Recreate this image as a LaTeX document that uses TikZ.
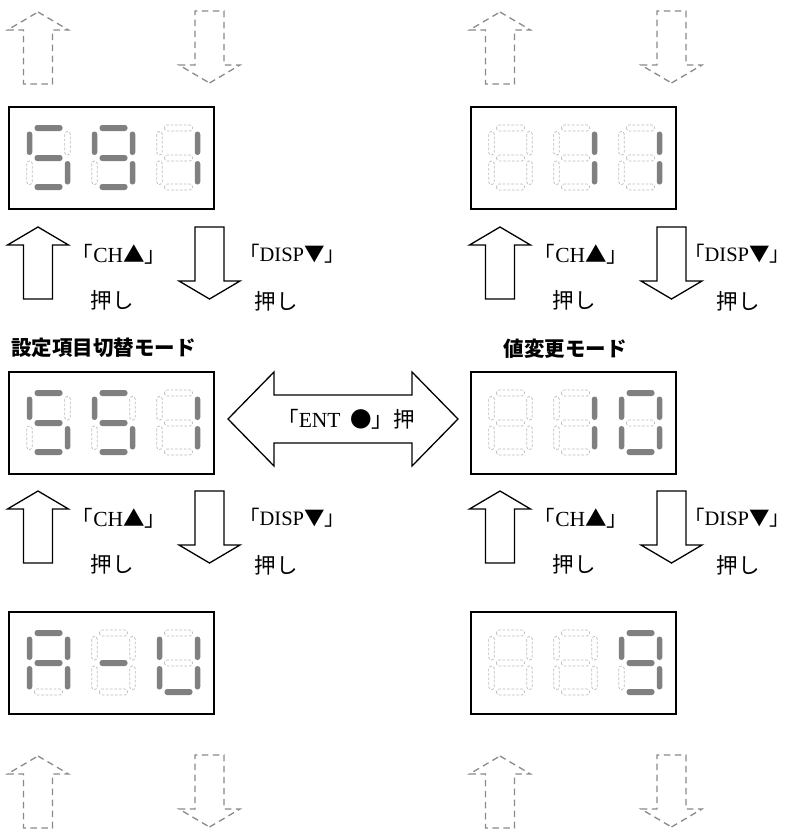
\documentclass[tikz,border=0pt]{standalone}
\usepackage{fontspec}
\setmainfont{Liberation Serif}
\newfontfamily\cjk{Noto Sans CJK JP}
\newfontfamily\cjkp{Noto Sans CJK JP}[RawFeature=+palt]
\newcommand\jp[1]{{\cjk #1}}
\definecolor{segc}{HTML}{808080}
\definecolor{offc}{HTML}{BDBDBD}
\definecolor{dashc}{HTML}{8A8A8A}
\tikzset{
 s1/.style={fill=segc, rounded corners=2.7pt},
 s0/.style={draw=offc, line width=0.75pt, dash pattern=on 2.6pt off 1.8pt, rounded corners=2.7pt},
 dispbox/.style={draw=black, line width=1.6pt, fill=white, minimum width=205pt, minimum height=102pt, anchor=north west, inner sep=0pt, outer sep=0pt},
 solidarr/.style={draw=black, line width=1.3pt, fill=white},
 ghostarr/.style={draw=dashc, line width=1.3pt, dash pattern=on 6.5pt off 4.5pt},
 keylab/.style={font=\fontsize{21.5}{24}\selectfont, inner sep=0pt},
 displab/.style={font=\fontsize{20.5}{24}\selectfont, inner sep=0pt},
 modelab/.style={font=\fontsize{20.5}{24}\selectfont\cjk\bfseries, inner sep=0pt},
 uparr/.pic={\path[pic actions] (0,0) -- (30.5,18) -- (14.5,18) -- (14.5,72) -- (-14.5,72) -- (-14.5,18) -- (-30.5,18) -- cycle;},
 downarr/.pic={\path[pic actions] (0,0) -- (30.5,-18) -- (14.5,-18) -- (14.5,-72) -- (-14.5,-72) -- (-14.5,-18) -- (-30.5,-18) -- cycle;},
}
\newcommand\disptext{\jp{「}DISP\jp{▼}{\cjkp 」}}
% #1 x, #2 y, #3..#9 = segments a b c d e f g (1 on, 0 off)
\newcommand\segdigit[9]{%
 \path[s#3] (#1+5,#2-3) rectangle (#1+33,#2+3);
 \path[s#4] (#1+35.25,#2+3.5) rectangle (#1+40.75,#2+27);
 \path[s#5] (#1+35.25,#2+33) rectangle (#1+40.75,#2+56.5);
 \path[s#6] (#1+5,#2+56) rectangle (#1+33,#2+62);
 \path[s#7] (#1-2.75,#2+33) rectangle (#1+2.75,#2+56.5);
 \path[s#8] (#1-2.75,#2+3.5) rectangle (#1+2.75,#2+27);
 \path[s#9] (#1+5,#2+27) rectangle (#1+33,#2+33);
}
\begin{document}
\begin{tikzpicture}[x=1pt,y=-1pt]
\useasboundingbox[fill=white] (0,0) rectangle (789,830);

% ghost arrows top
\pic[ghostarr] at (38,12) {uparr};
\pic[ghostarr] at (209.5,83) {downarr};
\pic[ghostarr] at (500,12) {uparr};
\pic[ghostarr] at (671.5,83) {downarr};

% display boxes
\node[dispbox] (b1) at (9,107) {};
\segdigit{29.5}{128}{1}{0}{1}{1}{0}{1}{1}
\segdigit{94.5}{128}{1}{1}{1}{1}{0}{1}{1}
\segdigit{159.5}{128}{0}{1}{1}{0}{0}{0}{0}

\node[dispbox] (b2) at (471,107) {};
\segdigit{491.5}{128}{0}{0}{0}{0}{0}{0}{0}
\segdigit{556.5}{128}{0}{1}{1}{0}{0}{0}{0}
\segdigit{621.5}{128}{0}{1}{1}{0}{0}{0}{0}

% arrows between row 1 and row 2
\pic[solidarr] at (38,227) {uparr};
\pic[solidarr] at (209.5,299) {downarr};
\pic[solidarr] at (500,227) {uparr};
\pic[solidarr] at (671.5,299) {downarr};
\node[keylab] (k1) at (119,254) {\jp{「}CH\jp{▲」}};
\node[displab] (k2) at (287,254) {\disptext};
\node[keylab] (p1) at (112,300) {\jp{押し}};
\node[keylab] (p2) at (276,301) {\jp{押し}};
\node[keylab] (k3) at (581,254) {\jp{「}CH\jp{▲」}};
\node[displab] (k4) at (732,254) {\disptext};
\node[keylab] (p3) at (574,300) {\jp{押し}};
\node[keylab] (p4) at (738,301) {\jp{押し}};

% mode labels
\node[modelab] (m1) at (103.5,348) {設定項目切替モード};
\node[modelab] (m2) at (565,349) {値変更モード};

% middle boxes
\node[dispbox] (b3) at (9,372) {};
\segdigit{29.5}{393}{1}{0}{1}{1}{0}{1}{1}
\segdigit{94.5}{393}{1}{0}{1}{1}{0}{1}{1}
\segdigit{159.5}{393}{0}{1}{1}{0}{0}{0}{0}

\node[dispbox] (b4) at (471,372) {};
\segdigit{491.5}{393}{0}{0}{0}{0}{0}{0}{0}
\segdigit{556.5}{393}{0}{1}{1}{0}{0}{0}{0}
\segdigit{621.5}{393}{1}{1}{1}{1}{1}{1}{0}

% double arrow
\path[solidarr] (228,419) -- (274,372) -- (274,395) -- (412,395) -- (412,372) -- (458,419) -- (412,466) -- (412,443) -- (274,443) -- (274,466) -- cycle;
\node[keylab] (ent) at (346,419) {\jp{「}ENT\hspace{0.45em}\jp{●」押}};

% arrows between row 2 and row 3
\pic[solidarr] at (38,491) {uparr};
\pic[solidarr] at (209.5,563) {downarr};
\pic[solidarr] at (500,491) {uparr};
\pic[solidarr] at (671.5,563) {downarr};
\node[keylab] (k5) at (119,518) {\jp{「}CH\jp{▲」}};
\node[displab] (k6) at (287,518) {\disptext};
\node[keylab] (p5) at (112,564) {\jp{押し}};
\node[keylab] (p6) at (276,565) {\jp{押し}};
\node[keylab] (k7) at (581,518) {\jp{「}CH\jp{▲」}};
\node[displab] (k8) at (732,518) {\disptext};
\node[keylab] (p7) at (574,564) {\jp{押し}};
\node[keylab] (p8) at (738,565) {\jp{押し}};

% bottom boxes
\node[dispbox] (b5) at (9,612) {};
\segdigit{29.5}{633}{1}{1}{1}{0}{1}{1}{1}
\segdigit{94.5}{633}{0}{0}{0}{0}{0}{0}{1}
\segdigit{159.5}{633}{0}{1}{1}{1}{1}{1}{0}

\node[dispbox] (b6) at (471,612) {};
\segdigit{491.5}{633}{0}{0}{0}{0}{0}{0}{0}
\segdigit{556.5}{633}{0}{0}{0}{0}{0}{0}{0}
\segdigit{621.5}{633}{1}{1}{1}{1}{0}{1}{1}

% ghost arrows bottom
\pic[ghostarr] at (38,756) {uparr};
\pic[ghostarr] at (209.5,827) {downarr};
\pic[ghostarr] at (500,756) {uparr};
\pic[ghostarr] at (671.5,827) {downarr};
\end{tikzpicture}
\end{document}
